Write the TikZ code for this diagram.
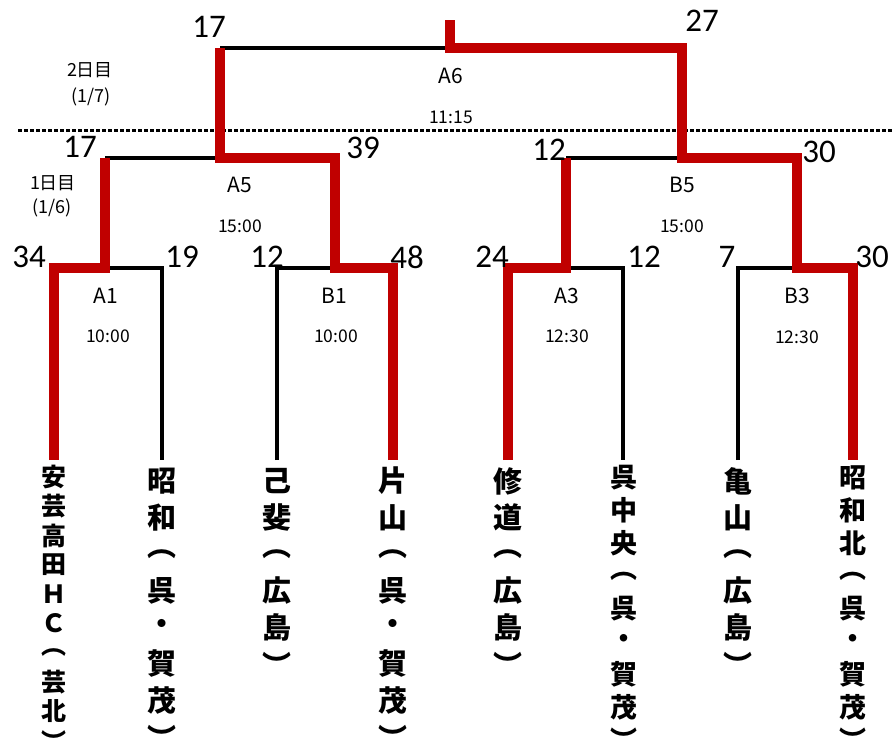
\documentclass[tikz,border=0pt]{standalone}
\usepackage{fontspec}
\setmainfont{Carlito}
\newfontfamily\jp{Noto Sans CJK JP}
\newfontfamily\num{Carlito}
\begin{document}
\begin{tikzpicture}[x=1pt,y=-1pt,
  win/.style={draw={rgb,255:red,192;green,0;blue,0},line width=10pt,line join=miter},
  lose/.style={draw=black,line width=3.5pt,line join=miter},
  score/.style={font=\num\fontsize{33}{33}\selectfont,inner sep=0pt},
  mlabel/.style={font=\jp\fontsize{21}{21}\selectfont,inner sep=0pt},
  mtime/.style={font=\jp\fontsize{17.5}{17.5}\selectfont,inner sep=0pt},
  daylbl/.style={font=\jp\fontsize{18}{18}\selectfont,inner sep=0pt},
  tchar/.style={font=\jp\bfseries\fontsize{#1}{#1}\selectfont,inner sep=0pt},
]
\useasboundingbox (0,0) rectangle (892,751);
% coordinates
\coordinate (t1) at (54,268);  \coordinate (b1) at (54,460);
\coordinate (t2) at (162,268); \coordinate (b2) at (162,460);
\coordinate (t3) at (277,268); \coordinate (b3) at (277,460);
\coordinate (t4) at (393,268); \coordinate (b4) at (393,460);
\coordinate (t5) at (508,268); \coordinate (b5) at (508,460);
\coordinate (t6) at (623,268); \coordinate (b6) at (623,460);
\coordinate (t7) at (738,268); \coordinate (b7) at (738,460);
\coordinate (t8) at (853,268); \coordinate (b8) at (853,460);
\coordinate (mA1) at (105,268); \coordinate (uA1) at (105,158);
\coordinate (mB1) at (335,268); \coordinate (uB1) at (335,158);
\coordinate (mA3) at (566,268); \coordinate (uA3) at (566,158);
\coordinate (mB3) at (797,268); \coordinate (uB3) at (797,158);
\coordinate (mA5) at (220,158); \coordinate (uA5) at (220,48);
\coordinate (mB5) at (682,158); \coordinate (uB5) at (682,48);
\coordinate (mA6) at (450,48);  \coordinate (uA6) at (450,20);
\coordinate (dl) at (18,131);   \coordinate (dr) at (892,131);
% day separator
\draw[line width=3pt,dash pattern=on 3.5pt off 2.5pt] (dl) -- (dr);
% losing branches
\draw[lose] (mA1) -- (t2) -- (b2);
\draw[lose] (b3) -- (t3) -- (mB1);
\draw[lose] (mA3) -- (t6) -- (b6);
\draw[lose] (b7) -- (t7) -- (mB3);
\draw[lose] (uA1) -- (mA5);
\draw[lose] (uA3) -- (mB5);
\draw[lose] (uA5) -- (mA6);
% winning branches
\draw[win] (b1) -- (t1) -- (mA1) -- (uA1);
\draw[win] (b4) -- (t4) -- (mB1) -- (uB1) -- (mA5) -- (uA5);
\draw[win] (b5) -- (t5) -- (mA3) -- (uA3);
\draw[win] (b8) -- (t8) -- (mB3) -- (uB3) -- (mB5) -- (uB5) -- (mA6) -- (uA6);
% scores
\node[score] (s17a) at (209,27) {17};
\node[score] (s27) at (702,21) {27};
\node[score] (s17b) at (80,147) {17};
\node[score] (s39) at (363,148) {39};
\node[score] (s12a) at (549,150) {12};
\node[score] (s30a) at (819,152) {30};
\node[score] (s34) at (29,257) {34};
\node[score] (s19) at (182,257) {19};
\node[score] (s12b) at (267,257) {12};
\node[score] (s48) at (407,257) {48};
\node[score] (s24) at (492,257) {24};
\node[score] (s12c) at (644,257) {12};
\node[score] (s7) at (727,257) {7};
\node[score] (s30b) at (872,257) {30};
% match labels
\node[mlabel] (lA6) at (451,76) {A6};
\node[mtime] (tA6) at (451,117) {11:15};
\node[mlabel] (lB5) at (682,185) {B5};
\node[mlabel] (lA5) at (240,185) {A5};
\node[mtime] (tA5) at (240,226) {15:00};
\node[mtime] (tB5) at (682,226) {15:00};
\node[mlabel] (lA1) at (106,296) {A1};
\node[mtime] (tA1) at (108,336) {10:00};
\node[mlabel] (lB1) at (334,296) {B1};
\node[mtime] (tB1) at (336,336) {10:00};
\node[mlabel] (lA3) at (567,296) {A3};
\node[mtime] (tA3) at (567,336) {12:30};
\node[mlabel] (lB3) at (797,296) {B3};
\node[mtime] (tB3) at (797,337) {12:30};
% day labels
\node[daylbl] (d2) at (90,70) {2日目};
\node[daylbl] (d2d) at (91,97) {(1/7)};
\node[daylbl] (d1) at (53,183) {1日目};
\node[daylbl] (d1d) at (52,208) {(1/6)};
% team names (vertical)
\foreach \c [count=\i] in {安,芸,高,田,Ｈ,Ｃ,︵,芸,北,︶}
  \node[tchar=25] (na\i) at (54,{477+29.3*(\i-1)}) {\c};
\foreach \c [count=\i] in {昭,和,︵,呉,・,賀,茂,︶}
  \node[tchar=29] (nb\i) at (162,{481+36.6*(\i-1)}) {\c};
\foreach \c [count=\i] in {己,斐,︵,広,島,︶}
  \node[tchar=29] (nc\i) at (277,{481+36.6*(\i-1)}) {\c};
\foreach \c [count=\i] in {片,山,︵,呉,・,賀,茂,︶}
  \node[tchar=29] (nd\i) at (393,{481+36.6*(\i-1)}) {\c};
\foreach \c [count=\i] in {修,道,︵,広,島,︶}
  \node[tchar=29] (ne\i) at (508,{481+36.6*(\i-1)}) {\c};
\foreach \c [count=\i] in {呉,中,央,︵,呉,・,賀,茂,︶}
  \node[tchar=27] (nf\i) at (624,{478+32.7*(\i-1)}) {\c};
\foreach \c [count=\i] in {亀,山,︵,広,島,︶}
  \node[tchar=29] (ng\i) at (738,{481+36.6*(\i-1)}) {\c};
\foreach \c [count=\i] in {昭,和,北,︵,呉,・,賀,茂,︶}
  \node[tchar=27] (nh\i) at (853,{478+32.7*(\i-1)}) {\c};
\end{tikzpicture}
\end{document}
